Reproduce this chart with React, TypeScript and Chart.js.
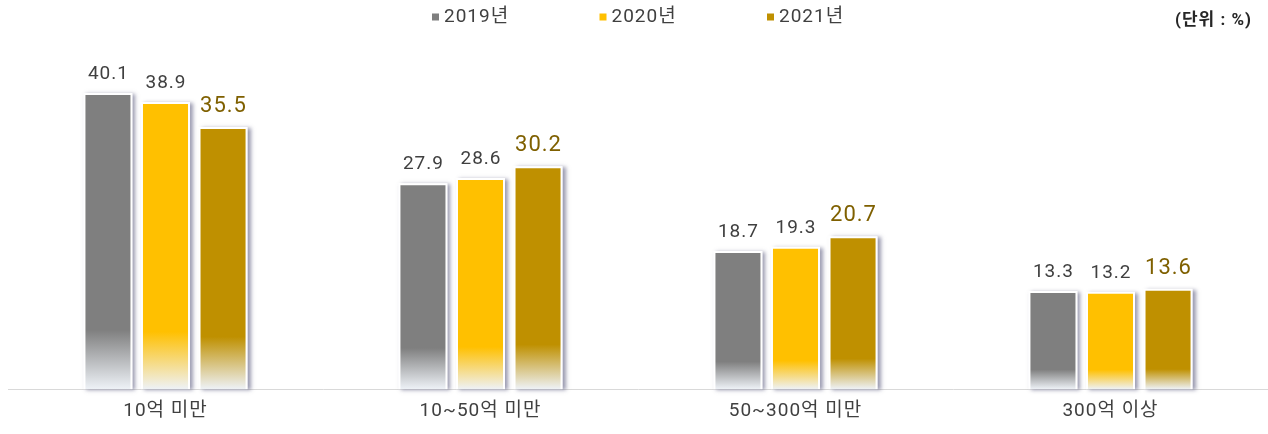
import React, { useEffect, useRef } from "react";
import { Chart, registerables } from "chart.js";

Chart.register(...registerables);

const categories = ["10억 미만", "10~50억 미만", "50~300억 미만", "300억 이상"];
const seriesLabels = ["2019년", "2020년", "2021년"];
const values2019 = [40.1, 27.9, 18.7, 13.3];
const values2020 = [38.9, 28.6, 19.3, 13.2];
const values2021 = [35.5, 30.2, 20.7, 13.6];
const seriesColors = ["#7F7F7F", "#FFC000", "#BF9000"];
const labelColors = ["#404040", "#404040", "#7F6000"];
const labelSizes = [19, 19, 22];
const unitLabel = "(단위 : %)";
const yMin = 0;
const yMax = 50;

const FONT = "Roboto, 'Noto Sans CJK KR', sans-serif";

function barFill(color: string) {
  return (ctx: any) => {
    const chart = ctx.chart;
    const y = chart.scales && chart.scales.y;
    if (!y || ctx.raw == null) return color;
    const top = y.getPixelForValue(ctx.raw);
    const base = y.getPixelForValue(0);
    if (!isFinite(top) || !isFinite(base) || base - top < 1) return color;
    const g = chart.ctx.createLinearGradient(0, top, 0, base);
    g.addColorStop(0, color);
    g.addColorStop(0.8, color);
    g.addColorStop(1, "#EEF2F7");
    return g;
  };
}

const spacingPlugin = {
  id: "letterSpacing",
  beforeDraw(chart: any) {
    (chart.ctx as any).letterSpacing = "1px";
  },
  afterDraw(chart: any) {
    (chart.ctx as any).letterSpacing = "0px";
  },
};

const shadowPlugin = {
  id: "barShadow",
  beforeDatasetsDraw(chart: any) {
    const ctx = chart.ctx;
    ctx.save();
    ctx.shadowColor = "rgba(70,70,110,0.55)";
    ctx.shadowBlur = 4;
    ctx.shadowOffsetX = 3;
    ctx.shadowOffsetY = 1;
    ctx.fillStyle = "#ffffff";
    chart.data.datasets.forEach((_: any, i: number) => {
      const meta = chart.getDatasetMeta(i);
      meta.data.forEach((bar: any) => {
        const { x, y, base, width } = bar.getProps(["x", "y", "base", "width"], true);
        ctx.fillRect(x - width / 2, y, width, base - y);
      });
    });
    ctx.restore();
  },
};

const valueLabelPlugin = {
  id: "valueLabels",
  afterDatasetsDraw(chart: any) {
    const ctx = chart.ctx;
    ctx.save();
    (ctx as any).letterSpacing = "1px";
    ctx.textAlign = "center";
    ctx.textBaseline = "alphabetic";
    chart.data.datasets.forEach((ds: any, i: number) => {
      const meta = chart.getDatasetMeta(i);
      ctx.fillStyle = labelColors[i];
      ctx.font = `${labelSizes[i]}px ${FONT}`;
      meta.data.forEach((bar: any, j: number) => {
        const { x, y } = bar.getProps(["x", "y"], true);
        ctx.fillText(Number(ds.data[j]).toFixed(1), x + 0.5, y - (i === 2 ? 15 : 14));
      });
    });
    ctx.restore();
  },
};

const legendPlugin = {
  id: "customLegend",
  afterDraw(chart: any) {
    const ctx = chart.ctx;
    ctx.save();
    (ctx as any).letterSpacing = "1px";
    const startX = 432;
    const step = 167.5;
    const cy = 17;
    ctx.font = `19px ${FONT}`;
    ctx.textBaseline = "middle";
    ctx.textAlign = "left";
    chart.data.datasets.forEach((ds: any, i: number) => {
      const x = startX + i * step;
      ctx.fillStyle = seriesColors[i];
      ctx.fillRect(x, cy - 3.5, 7, 7);
      ctx.fillStyle = "#404040";
      ctx.fillText(ds.label, x + 12, cy);
    });
    ctx.font = `bold 17px ${FONT}`;
    ctx.textAlign = "right";
    ctx.fillStyle = "#262626";
    ctx.fillText(unitLabel, 1252, 21);
    ctx.restore();
  },
};

export default function App() {
  const canvasRef = useRef<HTMLCanvasElement | null>(null);

  useEffect(() => {
    if (!canvasRef.current) return;
    const seriesValues = [values2019, values2020, values2021];
    const chart = new Chart(canvasRef.current, {
      type: "bar",
      data: {
        labels: categories,
        datasets: seriesLabels.map((label, i) => ({
          label,
          data: seriesValues[i],
          backgroundColor: barFill(seriesColors[i]),
          borderColor: "#ffffff",
          borderWidth: 2,
          categoryPercentage: 0.548,
          barPercentage: 0.852,
        })),
      },
      options: {
        responsive: false,
        animation: false,
        layout: { padding: { top: 20, left: 8, right: 0, bottom: 0 } },
        plugins: {
          legend: { display: false },
          tooltip: { enabled: false },
        },
        scales: {
          x: {
            grid: { display: false, drawTicks: false },
            border: { display: true, color: "#D9D9D9", width: 1 },
            ticks: {
              color: "#404040",
              font: { family: FONT, size: 19 },
              padding: 11,
            },
          },
          y: {
            display: false,
            min: yMin,
            max: yMax,
          },
        },
      },
      plugins: [spacingPlugin, shadowPlugin, valueLabelPlugin, legendPlugin],
    });
    return () => chart.destroy();
  }, []);

  return (
    <div style={{ position: "fixed", left: 0, top: 0, width: 1268, height: 434, background: "#fff" }}>
      <canvas ref={canvasRef} width={1268} height={434} style={{ display: "block" }} />
    </div>
  );
}
